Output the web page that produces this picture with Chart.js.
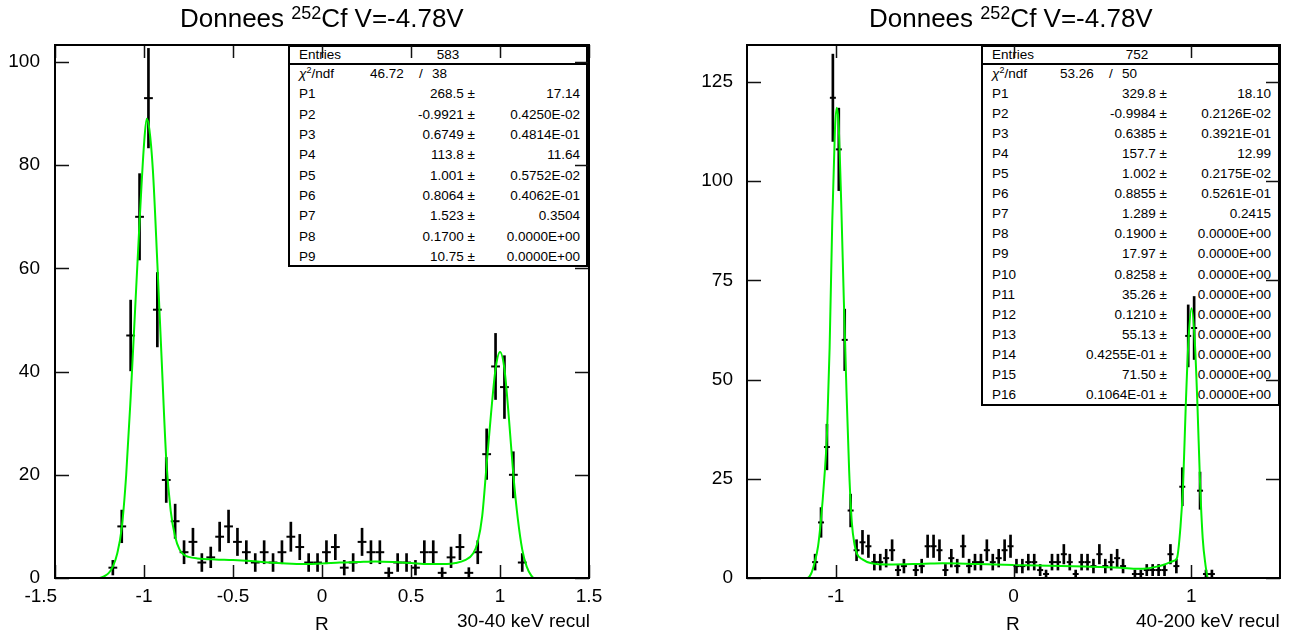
<!DOCTYPE html>
<html>
<head>
<meta charset="utf-8">
<script src="https://cdn.jsdelivr.net/npm/chart.js@4.4.1/dist/chart.umd.min.js"></script>
<style>
  html, body { margin:0; padding:0; background:#fff; }
  #wrap { position:relative; width:1306px; height:637px; overflow:hidden; font-family:"Liberation Sans", Arial, sans-serif; color:#000; }
  canvas { position:absolute; top:0; }
  .stats { position:absolute; box-sizing:border-box; border:2px solid #000; background:#fff; font-size:13.5px; }
  .stats .sep { position:absolute; left:0; right:0; height:0; border-top:2px solid #000; }
  .stats span { position:absolute; white-space:nowrap; line-height:16px; }
  .lbl { position:absolute; white-space:nowrap; font-size:19px; line-height:22px; }
  .title { position:absolute; white-space:nowrap; font-size:26px; line-height:30px; }
  .title sup { font-size:18px; vertical-align:8px; line-height:0; }
  .stats sup { font-size:9px; vertical-align:5px; line-height:0; }
</style>
</head>
<body>
<div id="wrap">
  <div class="stats" id="statsL"></div>
  <div class="stats" id="statsR"></div>
  <canvas id="cL" width="653" height="637" style="left:0"></canvas>
  <canvas id="cR" width="653" height="637" style="left:653px"></canvas>
  <div class="title" id="titleL">Donnees <sup>252</sup>Cf V=-4.78V</div>
  <div class="title" id="titleR">Donnees <sup>252</sup>Cf V=-4.78V</div>
  <div class="lbl" id="xlabL">R</div>
  <div class="lbl" id="xlabR">R</div>
  <div class="lbl" id="noteL">30-40 keV recul</div>
  <div class="lbl" id="noteR">40-200 keV recul</div>
</div>
<script>
// ---------------- Left panel data (30-40 keV) ----------------
const leftBinCenters = [-1.175,-1.125,-1.075,-1.025,-0.975,-0.925,-0.875,-0.825,-0.775,-0.725,-0.675,-0.625,-0.575,-0.525,-0.475,-0.425,-0.375,-0.325,-0.275,-0.225,-0.175,-0.125,-0.075,-0.025,0.025,0.075,0.125,0.175,0.225,0.275,0.325,0.375,0.425,0.475,0.525,0.575,0.625,0.675,0.725,0.775,0.825,0.875,0.925,0.975,1.025,1.075,1.125];
const leftCounts = [2,10,47,70,93,52,19,11,5,7,3,4,8,10,7,5,3,5,3,5,8,6,3,3,5,6,2,3,7,5,5,1,3,3,2,5,5,1,4,6,1,5,24,41,37,20,3];
const leftFitX = [-1.5,-1.25,-1.225,-1.2,-1.175,-1.15,-1.125,-1.1,-1.075,-1.05,-1.025,-1.0,-0.985,-0.97,-0.95,-0.925,-0.9,-0.875,-0.85,-0.825,-0.8,-0.775,-0.75,-0.7,-0.6,-0.5,-0.4,-0.3,-0.2,-0.1,0,0.1,0.2,0.3,0.4,0.5,0.6,0.7,0.75,0.8,0.85,0.875,0.9,0.925,0.95,0.975,1.0,1.025,1.05,1.075,1.1,1.125,1.15,1.175,1.19,1.5];
const leftFitY = [0,0,0.3,0.9,2.2,4.8,9.7,20,35,52,69,84,89,87,79,61,41.7,23,13,8,5.5,4.5,4.1,3.8,3.6,3.5,3.3,3.0,2.8,2.7,2.8,3.0,3.1,3.2,3.1,2.9,2.7,2.7,2.9,3.4,4.8,7,12,22,32,40.5,43.8,40.5,31,20,11.5,5.5,2.2,0.5,0,0];
const leftXTicks = [-1.5,-1,-0.5,0,0.5,1,1.5];
const leftYTicks = [0,20,40,60,80,100];
const leftStatsParams = [["268.5","17.14"],["-0.9921","0.4250E-02"],["0.6749","0.4814E-01"],["113.8","11.64"],["1.001","0.5752E-02"],["0.8064","0.4062E-01"],["1.523","0.3504"],["0.1700","0.0000E+00"],["10.75","0.0000E+00"]];

// ---------------- Right panel data (40-200 keV) ----------------
const rightBinCenters = [-1.1167,-1.0833,-1.05,-1.0167,-0.9833,-0.95,-0.9167,-0.8833,-0.85,-0.8167,-0.7833,-0.75,-0.7167,-0.6833,-0.65,-0.6167,-0.5833,-0.55,-0.5167,-0.4833,-0.45,-0.4167,-0.3833,-0.35,-0.3167,-0.2833,-0.25,-0.2167,-0.1833,-0.15,-0.1167,-0.0833,-0.05,-0.0167,0.0167,0.05,0.0833,0.1167,0.15,0.1833,0.2167,0.25,0.2833,0.3167,0.35,0.3833,0.4167,0.45,0.4833,0.5167,0.55,0.5833,0.6167,0.65,0.6833,0.7167,0.75,0.7833,0.8167,0.85,0.8833,0.9167,0.95,0.9833,1.0167,1.05,1.0833,1.1167];
const rightCounts = [4,14,33,121,108,60,17,7,9,8, 4,4,5,7,2,3,0,2,3,8, 8,7,2,5,3,8,3,4,4,7, 4,5,7,8,3,3,4,4,2,1, 4,4,6,4,1,4,4,3,6,3, 4,5,3,0,1,1,2,2,2,2, 6,3,23,61,63,22,1,1];
const rightFitX = [-1.5,-1.16,-1.14,-1.12,-1.1,-1.085,-1.065,-1.05,-1.035,-1.02,-1.005,-0.995,-0.985,-0.97,-0.955,-0.94,-0.925,-0.91,-0.895,-0.88,-0.85,-0.8,-0.7,-0.5,-0.4,-0.2,0,0.2,0.4,0.6,0.7,0.75,0.8,0.85,0.9,0.92,0.94,0.955,0.97,0.985,1.002,1.02,1.035,1.05,1.065,1.08,1.095,1.5];
const rightFitY = [0,0,1,3.8,8,14,25,36,58,90,113,118.5,115,95,70,47,27,14,8.5,6,4.7,3.7,3.4,3.6,3.7,3.5,3.3,3.1,2.9,2.6,2.3,2.4,2.8,3.4,4.3,5,13,24,44,60,68,60,44,24,10,3.5,0,0];
const rightXTicks = [-1,0,1];
const rightYTicks = [0,25,50,75,100,125];
const rightStatsParams = [["329.8","18.10"],["-0.9984","0.2126E-02"],["0.6385","0.3921E-01"],["157.7","12.99"],["1.002","0.2175E-02"],["0.8855","0.5261E-01"],["1.289","0.2415"],["0.1900","0.0000E+00"],["17.97","0.0000E+00"],["0.8258","0.0000E+00"],["35.26","0.0000E+00"],["0.1210","0.0000E+00"],["55.13","0.0000E+00"],["0.4255E-01","0.0000E+00"],["71.50","0.0000E+00"],["0.1064E-01","0.0000E+00"]];

// ---------------- Drawing ----------------
const FONT = {family: "'Liberation Sans', Arial, sans-serif", size: 19};

const framePlugin = {
  id: 'frame',
  afterDatasetsDraw(chart, args, opts) {
    const {ctx, chartArea: a, scales: {x, y}} = chart;
    ctx.save();
    ctx.strokeStyle = '#111';
    ctx.lineWidth = 1.5;
    ctx.beginPath();
    x.ticks.forEach(t => {
      const px = Math.round(x.getPixelForValue(t.value)) + 0.5;
      ctx.moveTo(px, a.bottom); ctx.lineTo(px, a.bottom - opts.xLen);
      ctx.moveTo(px, a.top); ctx.lineTo(px, a.top + opts.xLen);
    });
    y.ticks.forEach(t => {
      const py = Math.round(y.getPixelForValue(t.value)) + 0.5;
      ctx.moveTo(a.left, py); ctx.lineTo(a.left + opts.yLen, py);
      ctx.moveTo(a.right, py); ctx.lineTo(a.right - opts.yLen, py);
    });
    ctx.stroke();
    ctx.strokeStyle = '#000';
    ctx.lineWidth = 2;
    ctx.strokeRect(a.left, a.top, a.right - a.left, a.bottom - a.top);
    ctx.restore();
  }
};

// the leftmost label of the left panel sits left of its tick, as in the original
const xLabel = (v, xmin) => (v === xmin ? String(v) + '\u2002\u2002\u2002' : String(v));

function makeChart(canvas, cfg) {
  const counts = cfg.counts;
  return new Chart(canvas, {
    type: 'line',
    data: {
      datasets: [
        { type: 'line', data: cfg.fitX.map((x, i) => ({x, y: cfg.fitY[i]})),
          borderColor: '#00f000', borderWidth: 2, pointRadius: 0, fill: false,
          cubicInterpolationMode: 'monotone', order: 0 },
        { type: 'scatter', data: cfg.centers.map((x, i) => ({x, y: counts[i]})),
          pointStyle: 'line', pointRadius: cfg.halfBin, borderColor: '#000', borderWidth: 2,
          backgroundColor: '#000', showLine: false, order: 1 },
        { type: 'bar', data: cfg.centers.map((x, i) => ({x, y: [counts[i] - Math.sqrt(counts[i]), counts[i] + Math.sqrt(counts[i])]})),
          backgroundColor: '#000', borderWidth: 0, barThickness: 2, order: 2 }
      ]
    },
    options: {
      responsive: false, animation: false, devicePixelRatio: 1, events: [],
      layout: { padding: { left: 0, top: cfg.top, right: cfg.padRight, bottom: 0 } },
      plugins: { legend: { display: false }, tooltip: { enabled: false }, frame: { xLen: 13, yLen: 14 } },
      scales: {
        x: {
          type: 'linear', min: -1.5, max: 1.5, offset: false,
          grid: { display: false, drawTicks: false, offset: false }, border: { display: false },
          ticks: { font: FONT, color: '#000', padding: 7, maxRotation: 0, autoSkip: false,
                   callback: v => xLabel(v, cfg.shiftFirst ? -1.5 : null) },
          afterBuildTicks: s => { s.ticks = cfg.xTicks.map(v => ({value: v})); },
          afterFit: s => { s.height = 637 - cfg.bottom; s.paddingLeft = 0; s.paddingRight = 0; }
        },
        y: {
          type: 'linear', min: 0, max: cfg.ymax,
          grid: { display: false, drawTicks: false }, border: { display: false },
          ticks: { font: FONT, color: '#000', padding: cfg.yPad, autoSkip: false,
                   callback: v => String(v) },
          afterBuildTicks: s => { s.ticks = cfg.yTicks.map(v => ({value: v})); },
          afterFit: s => { s.width = cfg.left; s.paddingTop = 0; s.paddingBottom = 0; }
        }
      }
    },
    plugins: [framePlugin]
  });
}

makeChart(document.getElementById('cL'), {
  centers: leftBinCenters, counts: leftCounts, fitX: leftFitX, fitY: leftFitY,
  xTicks: leftXTicks, yTicks: leftYTicks, ymax: 103.3, halfBin: 4.4, shiftFirst: true,
  left: 55, padRight: 653 - 589, top: 45, bottom: 578, yPad: 15
});
makeChart(document.getElementById('cR'), {
  centers: rightBinCenters, counts: rightCounts, fitX: rightFitX, fitY: rightFitY,
  xTicks: rightXTicks, yTicks: rightYTicks, ymax: 134.3, halfBin: 3, shiftFirst: false,
  left: 747 - 653, padRight: 653 - (1280 - 653), top: 45, bottom: 578, yPad: 14
});

// ---------------- Stats boxes ----------------
function fillStats(el, s) {
  el.style.left = s.left + 'px'; el.style.top = s.top + 'px';
  el.style.width = s.width + 'px'; el.style.height = s.height + 'px';
  const inL = s.left + 2, inT = s.top + 2, inR = s.left + s.width - 2;
  const add = (html, x, cy, align) => {
    const sp = document.createElement('span');
    sp.innerHTML = html;
    sp.style.top = (cy - inT - 8) + 'px';
    if (align === 'right') sp.style.right = (inR - x) + 'px';
    else if (align === 'center') { sp.style.left = (x - inL) + 'px'; sp.style.transform = 'translateX(-50%)'; }
    else sp.style.left = (x - inL) + 'px';
    el.appendChild(sp);
  };
  const sep = document.createElement('div');
  sep.className = 'sep'; sep.style.top = (s.sepY - inT - 1) + 'px';
  el.appendChild(sep);
  add('Entries', s.left + s.labX, s.top + 9.5, 'left');
  add(s.entries, s.left + s.entX, s.top + 9.5, 'center');
  const r0 = s.sepY;
  add('<i>&chi;</i><sup>2</sup>/ndf', s.left + s.labX, r0 + s.rowH * 0.5, 'left');
  add(s.chi2, s.left + s.chiX, r0 + s.rowH * 0.5, 'left');
  add('/', s.left + s.slashX, r0 + s.rowH * 0.5, 'left');
  add(s.ndf, s.left + s.ndfX, r0 + s.rowH * 0.5, 'left');
  s.params.forEach((p, i) => {
    const cy = r0 + s.rowH * (i + 1.5);
    add('P' + (i + 1), s.left + s.labX, cy, 'left');
    add(p[0] + ' &plusmn;', s.left + s.midR, cy, 'right');
    add(p[1], s.left + s.width - s.rightGap, cy, 'right');
  });
}
fillStats(document.getElementById('statsL'), {
  left: 288, top: 45, width: 300, height: 222, sepY: 64, rowH: 20.3,
  labX: 11, entX: 160, chiX: 82, slashX: 131, ndfX: 144, midR: 187, rightGap: 8,
  entries: '583', chi2: '46.72', ndf: '38', params: leftStatsParams
});
fillStats(document.getElementById('statsR'), {
  left: 981, top: 45, width: 299, height: 361, sepY: 64, rowH: 20.05,
  labX: 11, entX: 156, chiX: 79, slashX: 128, ndfX: 141, midR: 186, rightGap: 9,
  entries: '752', chi2: '53.26', ndf: '50', params: rightStatsParams
});

// ---------------- Titles and axis labels ----------------
function placeCenter(id, cx, top) {
  const e = document.getElementById(id);
  e.style.top = top + 'px';
  e.style.left = (cx - e.offsetWidth / 2) + 'px';
}
function placeRight(id, rx, top) {
  const e = document.getElementById(id);
  e.style.top = top + 'px';
  e.style.left = (rx - e.offsetWidth) + 'px';
}
placeCenter('titleL', 322, 3);
placeCenter('titleR', 1011, 3);
placeCenter('xlabL', 322, 613);
placeCenter('xlabR', 1013, 613);
placeRight('noteL', 590, 610);
placeRight('noteR', 1280, 610);
</script>
</body>
</html>
